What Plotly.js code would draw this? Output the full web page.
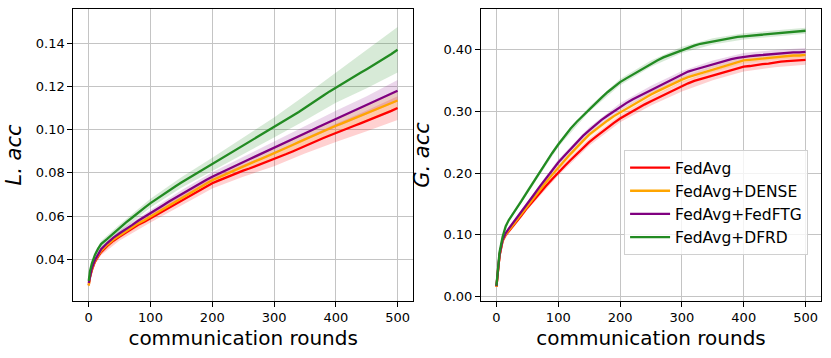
<!DOCTYPE html>
<html>
<head>
<meta charset="utf-8">
<script src="https://cdn.plot.ly/plotly-3.0.1.min.js"></script>
<style>
  html, body { margin: 0; padding: 0; background: #fff; }
  #chart { width: 831px; height: 358px; }
</style>
</head>
<body>
<div id="chart"></div>
<script>
var rounds = [0, 2, 5, 10, 15, 20, 30, 40, 50, 60, 70, 80, 90, 100, 110, 120, 130, 140, 150, 160, 170, 180, 190, 200,
  210, 220, 230, 240, 250, 260, 270, 280, 290, 300, 310, 320, 330, 340, 350, 360, 370, 380, 390, 400,
  410, 420, 430, 440, 450, 460, 470, 480, 490, 500];

var methodNames = ["FedAvg", "FedAvg+DENSE", "FedAvg+FedFTG", "FedAvg+DFRD"];
var methodColors = ["#ff0000", "#ffa500", "#800080", "#228b22"];
var bandColors = ["rgba(255,0,0,0.18)", "rgba(255,165,0,0.18)", "rgba(128,0,128,0.16)", "rgba(34,139,34,0.18)"];

// L. acc (left panel)
var localFedAvg = [0.0280, 0.0318, 0.0350, 0.0388, 0.0412, 0.0433, 0.0462, 0.0486, 0.0505, 0.0524, 0.0541, 0.0560, 0.0574, 0.0590,
  0.0607, 0.0624, 0.0640, 0.0656, 0.0672, 0.0689, 0.0705, 0.0721, 0.0737, 0.0752, 0.0764, 0.0776, 0.0787, 0.0799, 0.0810,
  0.0820, 0.0831, 0.0841, 0.0852, 0.0862, 0.0874, 0.0887, 0.0899, 0.0912, 0.0925, 0.0937, 0.0949, 0.0961, 0.0973, 0.0985,
  0.0996, 0.1007, 0.1018, 0.1029, 0.1040, 0.1051, 0.1063, 0.1075, 0.1087, 0.1100];
var localDense = [0.0278, 0.0320, 0.0353, 0.0391, 0.0416, 0.0438, 0.0467, 0.0491, 0.0510, 0.0530, 0.0547, 0.0566, 0.0581, 0.0598,
  0.0616, 0.0634, 0.0651, 0.0668, 0.0684, 0.0701, 0.0718, 0.0734, 0.0750, 0.0766, 0.0779, 0.0792, 0.0804, 0.0817, 0.0830,
  0.0842, 0.0854, 0.0866, 0.0878, 0.0890, 0.0903, 0.0916, 0.0929, 0.0942, 0.0955, 0.0968, 0.0980, 0.0993, 0.1005, 0.1018,
  0.1029, 0.1041, 0.1052, 0.1064, 0.1075, 0.1087, 0.1099, 0.1111, 0.1123, 0.1135];
var localFedFTG = [0.0290, 0.0325, 0.0358, 0.0396, 0.0423, 0.0446, 0.0475, 0.0500, 0.0520, 0.0541, 0.0558, 0.0578, 0.0595, 0.0612,
  0.0631, 0.0649, 0.0667, 0.0684, 0.0701, 0.0718, 0.0735, 0.0751, 0.0767, 0.0782, 0.0796, 0.0810, 0.0823, 0.0837, 0.0850,
  0.0863, 0.0876, 0.0889, 0.0902, 0.0915, 0.0929, 0.0942, 0.0956, 0.0969, 0.0983, 0.0996, 0.1010, 0.1023, 0.1037, 0.1050,
  0.1062, 0.1075, 0.1087, 0.1100, 0.1112, 0.1125, 0.1139, 0.1152, 0.1166, 0.1180];
var localDFRD = [0.0300, 0.0345, 0.0380, 0.0420, 0.0448, 0.0470, 0.0494, 0.0520, 0.0543, 0.0570, 0.0592, 0.0617, 0.0638, 0.0660,
  0.0680, 0.0699, 0.0718, 0.0737, 0.0755, 0.0772, 0.0789, 0.0806, 0.0823, 0.0840, 0.0857, 0.0874, 0.0891, 0.0908, 0.0925,
  0.0942, 0.0959, 0.0976, 0.0993, 0.1010, 0.1028, 0.1046, 0.1064, 0.1082, 0.1100, 0.1119, 0.1138, 0.1158, 0.1177, 0.1195,
  0.1212, 0.1229, 0.1246, 0.1263, 0.1280, 0.1297, 0.1314, 0.1332, 0.1350, 0.1370];

// G. acc (right panel)
var globalFedAvg = [0.016, 0.040, 0.066, 0.090, 0.100, 0.106, 0.118, 0.131, 0.144, 0.156, 0.168, 0.179, 0.190, 0.201,
  0.211, 0.221, 0.231, 0.241, 0.250, 0.258, 0.266, 0.274, 0.281, 0.288, 0.294, 0.300, 0.306, 0.311, 0.316,
  0.321, 0.326, 0.331, 0.336, 0.340, 0.345, 0.349, 0.352, 0.355, 0.358, 0.361, 0.364, 0.367, 0.369, 0.372,
  0.373, 0.375, 0.376, 0.377, 0.379, 0.380, 0.381, 0.382, 0.382, 0.383];
var globalDense = [0.016, 0.041, 0.067, 0.091, 0.101, 0.107, 0.120, 0.134, 0.147, 0.160, 0.173, 0.185, 0.197, 0.209,
  0.220, 0.231, 0.242, 0.252, 0.262, 0.270, 0.278, 0.285, 0.292, 0.298, 0.304, 0.310, 0.316, 0.322, 0.327,
  0.332, 0.337, 0.342, 0.347, 0.351, 0.355, 0.358, 0.361, 0.365, 0.368, 0.371, 0.374, 0.377, 0.380, 0.382,
  0.383, 0.384, 0.385, 0.386, 0.388, 0.389, 0.389, 0.390, 0.390, 0.391];
var globalFedFTG = [0.017, 0.042, 0.068, 0.092, 0.103, 0.110, 0.123, 0.137, 0.150, 0.164, 0.178, 0.191, 0.204, 0.217,
  0.228, 0.239, 0.250, 0.260, 0.269, 0.278, 0.286, 0.293, 0.300, 0.307, 0.313, 0.319, 0.324, 0.330, 0.335,
  0.340, 0.345, 0.350, 0.355, 0.359, 0.364, 0.367, 0.370, 0.373, 0.376, 0.379, 0.381, 0.384, 0.386, 0.388,
  0.389, 0.390, 0.391, 0.392, 0.393, 0.394, 0.394, 0.395, 0.395, 0.396];
var globalDFRD = [0.018, 0.045, 0.072, 0.097, 0.114, 0.124, 0.138, 0.154, 0.170, 0.186, 0.202, 0.217, 0.232, 0.246,
  0.260, 0.272, 0.283, 0.293, 0.303, 0.313, 0.322, 0.331, 0.339, 0.347, 0.353, 0.359, 0.365, 0.371, 0.377,
  0.382, 0.387, 0.391, 0.395, 0.399, 0.403, 0.406, 0.409, 0.411, 0.413, 0.415, 0.417, 0.419, 0.420, 0.421,
  0.422, 0.423, 0.424, 0.425, 0.426, 0.427, 0.428, 0.429, 0.429, 0.430];

// half-width of the shaded bands, at these rounds
var bandRounds = [0, 10, 20, 50, 100, 150, 200, 250, 300, 350, 400, 450, 500];
var localSpread = [
  [0.0008, 0.0012, 0.0015, 0.0018, 0.0020, 0.0022, 0.0025, 0.0028, 0.0032, 0.0036, 0.0042, 0.0048, 0.0055],
  [0.0006, 0.0010, 0.0012, 0.0014, 0.0016, 0.0018, 0.0020, 0.0022, 0.0026, 0.0030, 0.0034, 0.0038, 0.0042],
  [0.0006, 0.0010, 0.0012, 0.0014, 0.0016, 0.0018, 0.0021, 0.0024, 0.0028, 0.0032, 0.0037, 0.0042, 0.0050],
  [0.0008, 0.0012, 0.0015, 0.0018, 0.0020, 0.0024, 0.0030, 0.0038, 0.0046, 0.0058, 0.0070, 0.0088, 0.0105]
];
var globalSpread = [
  [0.002, 0.003, 0.004, 0.004, 0.005, 0.006, 0.006, 0.007, 0.008, 0.008, 0.008, 0.008, 0.008],
  [0.002, 0.003, 0.003, 0.003, 0.004, 0.004, 0.004, 0.005, 0.005, 0.005, 0.005, 0.005, 0.005],
  [0.002, 0.003, 0.003, 0.004, 0.005, 0.005, 0.006, 0.006, 0.006, 0.006, 0.006, 0.006, 0.006],
  [0.002, 0.003, 0.003, 0.004, 0.004, 0.004, 0.005, 0.005, 0.005, 0.005, 0.005, 0.005, 0.005]
];

var localSeries = [localFedAvg, localDense, localFedFTG, localDFRD];
var globalSeries = [globalFedAvg, globalDense, globalFedFTG, globalDFRD];

function bandTrace(values, spread, color, xa, ya) {
  var up = [], lo = [];
  bandRounds.forEach(function (r, k) {
    var v = values[rounds.indexOf(r)];
    up.push(v + spread[k]);
    lo.push(v - spread[k]);
  });
  return {
    x: bandRounds.concat(bandRounds.slice().reverse()),
    y: up.concat(lo.reverse()),
    xaxis: xa, yaxis: ya,
    type: "scatter", mode: "lines", fill: "toself",
    fillcolor: color, line: { width: 0 },
    hoverinfo: "skip", showlegend: false
  };
}

var data = [];
for (var i = 0; i < 4; i++) {
  data.push(bandTrace(localSeries[i], localSpread[i], bandColors[i], "x", "y"));
  data.push(bandTrace(globalSeries[i], globalSpread[i], bandColors[i], "x2", "y2"));
}
for (var i = 0; i < 4; i++) {
  data.push({
    x: rounds, y: localSeries[i], xaxis: "x", yaxis: "y",
    type: "scatter", mode: "lines", name: methodNames[i],
    line: { color: methodColors[i], width: 2.3 }, showlegend: false
  });
  data.push({
    x: rounds, y: globalSeries[i], xaxis: "x2", yaxis: "y2",
    type: "scatter", mode: "lines", name: methodNames[i],
    line: { color: methodColors[i], width: 2.3 }
  });
}

var tickFont = { family: "DejaVu Sans", size: 13, color: "#000" };
var titleFont = { family: "DejaVu Sans", size: 20, color: "#000" };

function xAxis(domain, anchor) {
  return {
    domain: domain, anchor: anchor, range: [-25, 525],
    tickvals: [0, 100, 200, 300, 400, 500],
    ticks: "outside", ticklen: 5, tickcolor: "#000",
    showline: true, mirror: true, linecolor: "#000", linewidth: 1,
    showgrid: true, gridcolor: "#c4c4c4", gridwidth: 1, zeroline: false,
    tickfont: tickFont,
    title: { text: "communication rounds", font: titleFont, standoff: 6 }
  };
}
function yAxis(range, ticks, title, anchor) {
  return {
    domain: [0.16, 0.974], anchor: anchor, range: range,
    tickvals: ticks, tickformat: ".2f",
    ticks: "outside", ticklen: 5, tickcolor: "#000",
    showline: true, mirror: true, linecolor: "#000", linewidth: 1,
    showgrid: true, gridcolor: "#c4c4c4", gridwidth: 1, zeroline: false,
    tickfont: tickFont,
    title: { text: title, font: { family: "DejaVu Sans", size: 21, color: "#000" }, standoff: 8 }
  };
}

var layout = {
  width: 831, height: 358,
  margin: { l: 0, r: 0, t: 0, b: 0 },
  paper_bgcolor: "#fff", plot_bgcolor: "#fff",
  font: { family: "DejaVu Sans", color: "#000" },
  xaxis: xAxis([0.0882, 0.4970], "y"),
  yaxis: yAxis([0.0208, 0.1557], [0.04, 0.06, 0.08, 0.10, 0.12, 0.14], "<i>L. acc</i>", "x"),
  xaxis2: xAxis([0.5788, 0.9880], "y2"),
  yaxis2: yAxis([-0.0065, 0.4647], [0.0, 0.1, 0.2, 0.3, 0.4], "<i>G. acc</i>", "x2"),
  showlegend: true,
  legend: {
    x: 0.751, y: 0.581, xanchor: "left", yanchor: "top",
    bgcolor: "rgba(255,255,255,0.8)", bordercolor: "#d0d0d0", borderwidth: 1,
    font: { family: "DejaVu Sans", size: 15.5, color: "#000" },
    traceorder: "normal", itemwidth: 40
  }
};

Plotly.newPlot("chart", data, layout, { staticPlot: true });
</script>
</body>
</html>
